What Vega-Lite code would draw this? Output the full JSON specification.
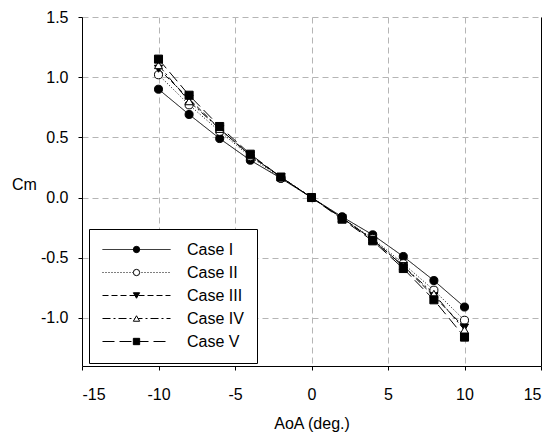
{
  "$schema": "https://vega.github.io/schema/vega-lite/v6.json",
  "width": 459,
  "height": 349,
  "autosize": "none",
  "padding": {"left": 82, "top": 17, "right": 11, "bottom": 73},
  "background": "white",
  "config": {
    "view": {"stroke": null},
    "font": "Liberation Sans",
    "axis": {
      "domainColor": "black",
      "domainWidth": 1,
      "tickColor": "black",
      "tickSize": 4,
      "labelColor": "black",
      "labelFontSize": 16,
      "titleFontSize": 16,
      "titleFontWeight": "normal",
      "titleColor": "black",
      "gridColor": "#b5b5b5",
      "gridDash": [6, 4],
      "gridWidth": 1
    }
  },
  "data": {
    "values": [
      {"case": "Case I", "aoa": -10, "cm": 0.90},
      {"case": "Case I", "aoa": -8, "cm": 0.69},
      {"case": "Case I", "aoa": -6, "cm": 0.49},
      {"case": "Case I", "aoa": -4, "cm": 0.31},
      {"case": "Case I", "aoa": -2, "cm": 0.16},
      {"case": "Case I", "aoa": 0, "cm": 0.0},
      {"case": "Case I", "aoa": 2, "cm": -0.16},
      {"case": "Case I", "aoa": 4, "cm": -0.31},
      {"case": "Case I", "aoa": 6, "cm": -0.49},
      {"case": "Case I", "aoa": 8, "cm": -0.69},
      {"case": "Case I", "aoa": 10, "cm": -0.91},
      {"case": "Case II", "aoa": -10, "cm": 1.02},
      {"case": "Case II", "aoa": -8, "cm": 0.77},
      {"case": "Case II", "aoa": -6, "cm": 0.55},
      {"case": "Case II", "aoa": -4, "cm": 0.34},
      {"case": "Case II", "aoa": -2, "cm": 0.16},
      {"case": "Case II", "aoa": 0, "cm": 0.0},
      {"case": "Case II", "aoa": 2, "cm": -0.17},
      {"case": "Case II", "aoa": 4, "cm": -0.34},
      {"case": "Case II", "aoa": 6, "cm": -0.55},
      {"case": "Case II", "aoa": 8, "cm": -0.77},
      {"case": "Case II", "aoa": 10, "cm": -1.02},
      {"case": "Case III", "aoa": -10, "cm": 1.07},
      {"case": "Case III", "aoa": -8, "cm": 0.82},
      {"case": "Case III", "aoa": -6, "cm": 0.57},
      {"case": "Case III", "aoa": -4, "cm": 0.35},
      {"case": "Case III", "aoa": -2, "cm": 0.17},
      {"case": "Case III", "aoa": 0, "cm": 0.0},
      {"case": "Case III", "aoa": 2, "cm": -0.17},
      {"case": "Case III", "aoa": 4, "cm": -0.35},
      {"case": "Case III", "aoa": 6, "cm": -0.57},
      {"case": "Case III", "aoa": 8, "cm": -0.82},
      {"case": "Case III", "aoa": 10, "cm": -1.08},
      {"case": "Case IV", "aoa": -10, "cm": 1.10},
      {"case": "Case IV", "aoa": -8, "cm": 0.80},
      {"case": "Case IV", "aoa": -6, "cm": 0.57},
      {"case": "Case IV", "aoa": -4, "cm": 0.35},
      {"case": "Case IV", "aoa": -2, "cm": 0.17},
      {"case": "Case IV", "aoa": 0, "cm": 0.0},
      {"case": "Case IV", "aoa": 2, "cm": -0.17},
      {"case": "Case IV", "aoa": 4, "cm": -0.35},
      {"case": "Case IV", "aoa": 6, "cm": -0.57},
      {"case": "Case IV", "aoa": 8, "cm": -0.80},
      {"case": "Case IV", "aoa": 10, "cm": -1.10},
      {"case": "Case V", "aoa": -10, "cm": 1.15},
      {"case": "Case V", "aoa": -8, "cm": 0.85},
      {"case": "Case V", "aoa": -6, "cm": 0.59},
      {"case": "Case V", "aoa": -4, "cm": 0.36},
      {"case": "Case V", "aoa": -2, "cm": 0.17},
      {"case": "Case V", "aoa": 0, "cm": 0.0},
      {"case": "Case V", "aoa": 2, "cm": -0.18},
      {"case": "Case V", "aoa": 4, "cm": -0.36},
      {"case": "Case V", "aoa": 6, "cm": -0.59},
      {"case": "Case V", "aoa": 8, "cm": -0.85},
      {"case": "Case V", "aoa": 10, "cm": -1.16}
    ]
  },
  "layer": [
    {
      "mark": {"type": "line", "color": "black", "strokeWidth": 1},
      "encoding": {
        "x": {
          "field": "aoa",
          "type": "quantitative",
          "scale": {"domain": [-15, 15], "nice": false},
          "axis": {
            "values": [-15, -10, -5, 0, 5, 10, 15],
            "labelExpr": "replace(datum.label, '\u2212', '-')",
            "title": "AoA (deg.)",
            "grid": true,
            "labelPadding": 16,
            "titleY": 57,
            "titleBaseline": "middle"
          }
        },
        "y": {
          "field": "cm",
          "type": "quantitative",
          "scale": {"domain": [-1.4, 1.5], "nice": false, "zero": false},
          "axis": {
            "values": [-1, -0.5, 0, 0.5, 1, 1.5],
            "format": ".1f",
            "labelExpr": "replace(datum.label, '\u2212', '-')",
            "title": "Cm",
            "grid": true,
            "labelPadding": 10,
            "titleAngle": 0,
            "titleX": -58,
            "titleY": 167,
            "titleAlign": "center",
            "titleBaseline": "middle"
          }
        },
        "strokeDash": {
          "field": "case",
          "type": "nominal",
          "scale": {"range": [[1, 0], [1, 2], [6, 3], [8, 3, 2, 3], [12, 5]]},
          "legend": {
            "title": null,
            "orient": "none",
            "legendX": 7,
            "legendY": 212,
            "padding": 13,
            "fillColor": "white",
            "strokeColor": "black",
            "symbolType": "stroke",
            "symbolSize": 4624,
            "symbolStrokeWidth": 1,
            "symbolStrokeColor": "black",
            "clipHeight": 15,
            "rowPadding": 6,
            "labelOffset": 16,
            "labelFontSize": 16,
            "labelColor": "black",
            "labelExpr": "datum.label + '\u00a0\u00a0\u00a0\u00a0\u00a0\u00a0'"
          }
        }
      }
    },
    {
      "mark": {"type": "point", "filled": true, "strokeWidth": 1, "size": 65, "opacity": 1},
      "encoding": {
        "x": {"field": "aoa", "type": "quantitative"},
        "y": {
          "field": "cm",
          "type": "quantitative",
          "axis": {"orient": "right", "labels": false, "ticks": false, "grid": false, "title": null}
        },
        "shape": {
          "field": "case",
          "type": "nominal",
          "scale": {
            "domain": ["Case I", "Case II", "Case III", "Case IV", "Case V"],
            "range": ["circle", "circle", "triangle-down", "triangle-up", "square"]
          },
          "legend": {
            "title": null,
            "orient": "none",
            "legendX": 33.5,
            "legendY": 212,
            "padding": 13,
            "symbolSize": 40,
            "symbolStrokeWidth": 1,
            "clipHeight": 15,
            "rowPadding": 6,
            "labelOffset": 16,
            "labelFontSize": 16,
            "labelExpr": "'\u00a0'"
          }
        },
        "fill": {
          "field": "case",
          "type": "nominal",
          "scale": {
            "domain": ["Case I", "Case II", "Case III", "Case IV", "Case V"],
            "range": ["black", "white", "black", "white", "black"]
          },
          "legend": {
            "title": null,
            "orient": "none",
            "legendX": 33.5,
            "legendY": 212,
            "padding": 13,
            "symbolSize": 40,
            "symbolStrokeWidth": 1,
            "clipHeight": 15,
            "rowPadding": 6,
            "labelOffset": 16,
            "labelFontSize": 16,
            "labelExpr": "'\u00a0'"
          }
        },
        "stroke": {
          "field": "case",
          "type": "nominal",
          "scale": {
            "domain": ["Case I", "Case II", "Case III", "Case IV", "Case V"],
            "range": ["black", "black", "black", "black", "black"]
          },
          "legend": {
            "title": null,
            "orient": "none",
            "legendX": 33.5,
            "legendY": 212,
            "padding": 13,
            "symbolSize": 40,
            "symbolStrokeWidth": 1,
            "clipHeight": 15,
            "rowPadding": 6,
            "labelOffset": 16,
            "labelFontSize": 16,
            "labelExpr": "'\u00a0'"
          }
        }
      }
    }
  ],
  "resolve": {"axis": {"y": "independent"}}
}
